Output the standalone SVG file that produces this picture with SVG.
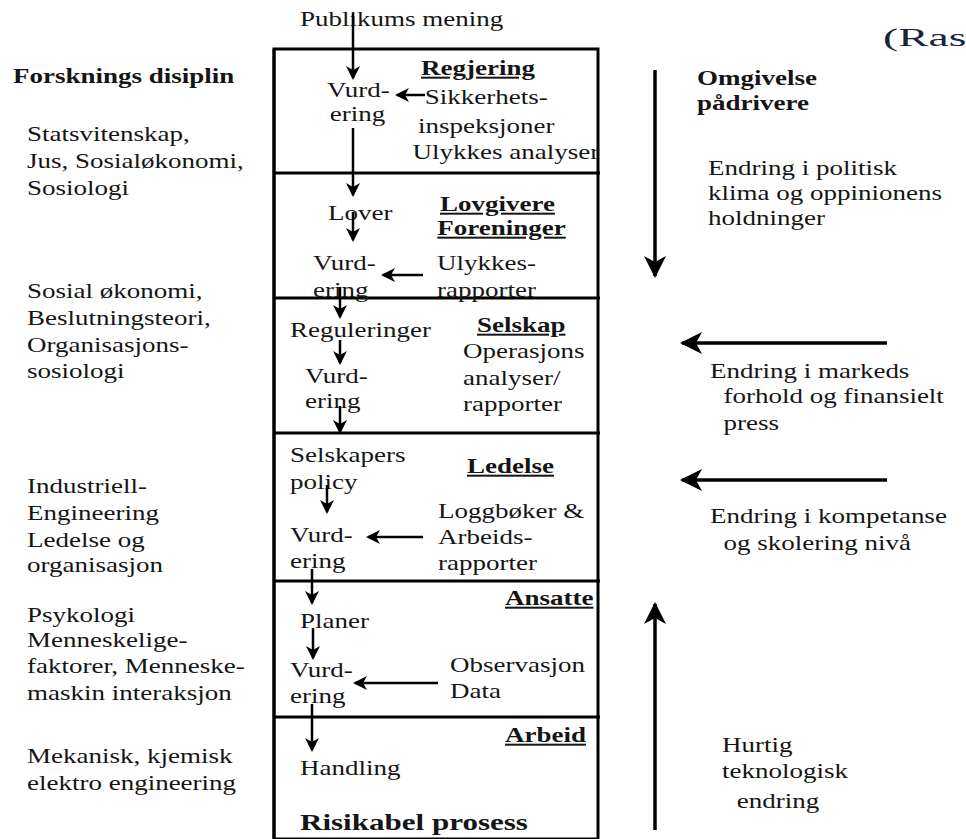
<svg xmlns="http://www.w3.org/2000/svg" width="966" height="839" viewBox="0 0 966 839">
<style>
text{font-family:"Liberation Serif","Times New Roman",serif;font-size:20px;fill:#151515}
.b{font-weight:bold}
.u{text-decoration:underline}
.big{font-size:23px}
.frame{fill:none;stroke:#000;stroke-width:3}
.div{stroke:#000;stroke-width:3}
.c{stroke:#000;stroke-width:2.5;fill:none}
.C{stroke:#000;stroke-width:3.5;fill:none}
</style>
<defs>
<marker id="ah" viewBox="0 0 14 14" markerWidth="14" markerHeight="14" refX="12" refY="7" orient="auto" markerUnits="userSpaceOnUse"><path d="M0,0 L14,7 L0,14 L4,7 z" fill="#000"/></marker>
<marker id="AH" viewBox="0 0 22 22" markerWidth="22" markerHeight="22" refX="20" refY="11" orient="auto" markerUnits="userSpaceOnUse"><path d="M0,0 L22,11 L0,22 L6,11 z" fill="#000"/></marker>
</defs>
<rect width="966" height="839" fill="#fff"/>

<g id="frame">
<rect class="frame" x="274" y="49" width="324" height="790"/>
<line class="div" x1="274" y1="49" x2="274" y2="839" stroke-width="4"/>
<line class="div" x1="274" y1="173" x2="600" y2="173"/>
<line class="div" x1="274" y1="298" x2="600" y2="298"/>
<line class="div" x1="274" y1="433" x2="600" y2="433"/>
<line class="div" x1="274" y1="581" x2="600" y2="581"/>
<line class="div" x1="274" y1="717" x2="600" y2="717"/>
</g>

<g id="publikum">
<text transform="translate(300,26) scale(1.35,1)">Publikums mening</text>
</g>

<g id="regjering">
<text class="b u" transform="translate(421,75) scale(1.35,1)">Regjering</text>
<text transform="translate(327,97) scale(1.35,1)"><tspan x="0" y="0">Vurd-</tspan><tspan x="2" y="24">ering</tspan></text>
<text transform="translate(418,104) scale(1.35,1)"><tspan x="5" y="0">Sikkerhets-</tspan><tspan x="0" y="29">inspeksjoner</tspan><tspan x="-4" y="55">Ulykkes analyser</tspan></text>
</g>

<g id="lovgivere">
<text class="b u" transform="translate(440,211) scale(1.35,1)"><tspan x="0" y="0">Lovgivere</tspan><tspan x="-2" y="24">Foreninger</tspan></text>
<text transform="translate(328,220) scale(1.35,1)">Lover</text>
<text transform="translate(313,270) scale(1.35,1)"><tspan x="0" y="0">Vurd-</tspan><tspan x="0" y="27">ering</tspan></text>
<text transform="translate(437,270) scale(1.35,1)"><tspan x="0" y="0">Ulykkes-</tspan><tspan x="0" y="27">rapporter</tspan></text>
</g>

<g id="selskap">
<text transform="translate(290,337) scale(1.35,1)">Reguleringer</text>
<text transform="translate(305,383) scale(1.35,1)"><tspan x="0" y="0">Vurd-</tspan><tspan x="0" y="25">ering</tspan></text>
<text class="b u" transform="translate(477,332) scale(1.35,1)">Selskap</text>
<text transform="translate(463,358) scale(1.35,1)"><tspan x="0" y="0">Operasjons</tspan><tspan x="0" y="27">analyser/</tspan><tspan x="0" y="53">rapporter</tspan></text>
</g>

<g id="ledelse">
<text transform="translate(290,462) scale(1.35,1)"><tspan x="0" y="0">Selskapers</tspan><tspan x="0" y="27">policy</tspan></text>
<text class="b u" transform="translate(467,473) scale(1.35,1)">Ledelse</text>
<text transform="translate(438,518) scale(1.35,1)"><tspan x="0" y="0">Loggbøker &amp;</tspan><tspan x="0" y="26">Arbeids-</tspan><tspan x="0" y="52">rapporter</tspan></text>
<text transform="translate(290,542) scale(1.35,1)"><tspan x="0" y="0">Vurd-</tspan><tspan x="0" y="26">ering</tspan></text>
</g>

<g id="ansatte">
<text transform="translate(300,628) scale(1.35,1)">Planer</text>
<text transform="translate(290,677) scale(1.35,1)"><tspan x="0" y="0">Vurd-</tspan><tspan x="0" y="26">ering</tspan></text>
<text class="b u" transform="translate(505,605) scale(1.35,1)">Ansatte</text>
<text transform="translate(450,672) scale(1.35,1)"><tspan x="0" y="0">Observasjon</tspan><tspan x="0" y="26">Data</tspan></text>
</g>

<g id="arbeid">
<text class="b u" transform="translate(505,742) scale(1.35,1)">Arbeid</text>
<text transform="translate(300,775) scale(1.35,1)">Handling</text>
<text class="b big" transform="translate(300,830) scale(1.35,1)">Risikabel prosess</text>
</g>

<g id="disipliner">
<text class="b" transform="translate(13,83) scale(1.35,1)">Forsknings disiplin</text>
<text transform="translate(27,141) scale(1.35,1)"><tspan x="0" y="0">Statsvitenskap,</tspan><tspan x="0" y="27">Jus, Sosialøkonomi,</tspan><tspan x="0" y="54">Sosiologi</tspan></text>
<text transform="translate(27,298) scale(1.35,1)"><tspan x="0" y="0">Sosial økonomi,</tspan><tspan x="0" y="27">Beslutningsteori,</tspan><tspan x="0" y="54">Organisasjons-</tspan><tspan x="0" y="80">sosiologi</tspan></text>
<text transform="translate(27,493) scale(1.35,1)"><tspan x="0" y="0">Industriell-</tspan><tspan x="0" y="27">Engineering</tspan><tspan x="0" y="54">Ledelse og</tspan><tspan x="0" y="79">organisasjon</tspan></text>
<text transform="translate(27,622) scale(1.35,1)"><tspan x="0" y="0">Psykologi</tspan><tspan x="0" y="25">Menneskelige-</tspan><tspan x="0" y="51">faktorer, Menneske-</tspan><tspan x="0" y="78">maskin interaksjon</tspan></text>
<text transform="translate(27,763) scale(1.35,1)"><tspan x="0" y="0">Mekanisk, kjemisk</tspan><tspan x="0" y="27">elektro engineering</tspan></text>
</g>

<g id="omgivelse">
<text style="fill:#1c2340;font-size:26px" transform="translate(883,46) scale(1.75,1)">(Ras</text>
<text class="b" transform="translate(697,85) scale(1.35,1)"><tspan x="0" y="0">Omgivelse</tspan><tspan x="0" y="25">pådrivere</tspan></text>
<text transform="translate(708,175) scale(1.35,1)"><tspan x="0" y="0">Endring i politisk</tspan><tspan x="0" y="25">klima og oppinionens</tspan><tspan x="0" y="50">holdninger</tspan></text>
<text transform="translate(710,378) scale(1.35,1)"><tspan x="0" y="0">Endring i markeds</tspan><tspan x="5" y="25"> forhold og finansielt</tspan><tspan x="5" y="52"> press</tspan></text>
<text transform="translate(710,523) scale(1.35,1)"><tspan x="0" y="0">Endring i kompetanse</tspan><tspan x="5" y="27"> og skolering nivå</tspan></text>
<text transform="translate(722,752) scale(1.35,1)"><tspan x="0" y="0">Hurtig</tspan><tspan x="0" y="26">teknologisk</tspan><tspan x="6" y="56"> endring</tspan></text>
</g>

<g id="connectors">
<line class="c" x1="353" y1="14" x2="353" y2="78" marker-end="url(#ah)"/>
<line class="c" x1="425" y1="95" x2="397" y2="95" marker-end="url(#ah)"/>
<line class="c" x1="353" y1="128" x2="353" y2="195" marker-end="url(#ah)"/>
<line class="c" x1="353" y1="212" x2="353" y2="240" marker-end="url(#ah)"/>
<line class="c" x1="423" y1="275" x2="383" y2="275" marker-end="url(#ah)"/>
<line class="c" x1="340" y1="287" x2="340" y2="317" marker-end="url(#ah)"/>
<line class="c" x1="340" y1="340" x2="340" y2="363" marker-end="url(#ah)"/>
<line class="c" x1="340" y1="406" x2="340" y2="432" marker-end="url(#ah)"/>
<line class="c" x1="327" y1="485" x2="327" y2="512" marker-end="url(#ah)"/>
<line class="c" x1="423" y1="537" x2="368" y2="537" marker-end="url(#ah)"/>
<line class="c" x1="312" y1="569" x2="312" y2="603" marker-end="url(#ah)"/>
<line class="c" x1="313" y1="628" x2="313" y2="658" marker-end="url(#ah)"/>
<line class="c" x1="438" y1="683" x2="355" y2="683" marker-end="url(#ah)"/>
<line class="c" x1="312" y1="704" x2="312" y2="750" marker-end="url(#ah)"/>
<line class="C" x1="655" y1="70" x2="655" y2="276" marker-end="url(#AH)"/>
<line class="C" x1="887" y1="343" x2="682" y2="343" marker-end="url(#AH)"/>
<line class="C" x1="887" y1="480" x2="682" y2="480" marker-end="url(#AH)"/>
<line class="C" x1="655" y1="830" x2="655" y2="604" marker-end="url(#AH)"/>
</g>
</svg>
